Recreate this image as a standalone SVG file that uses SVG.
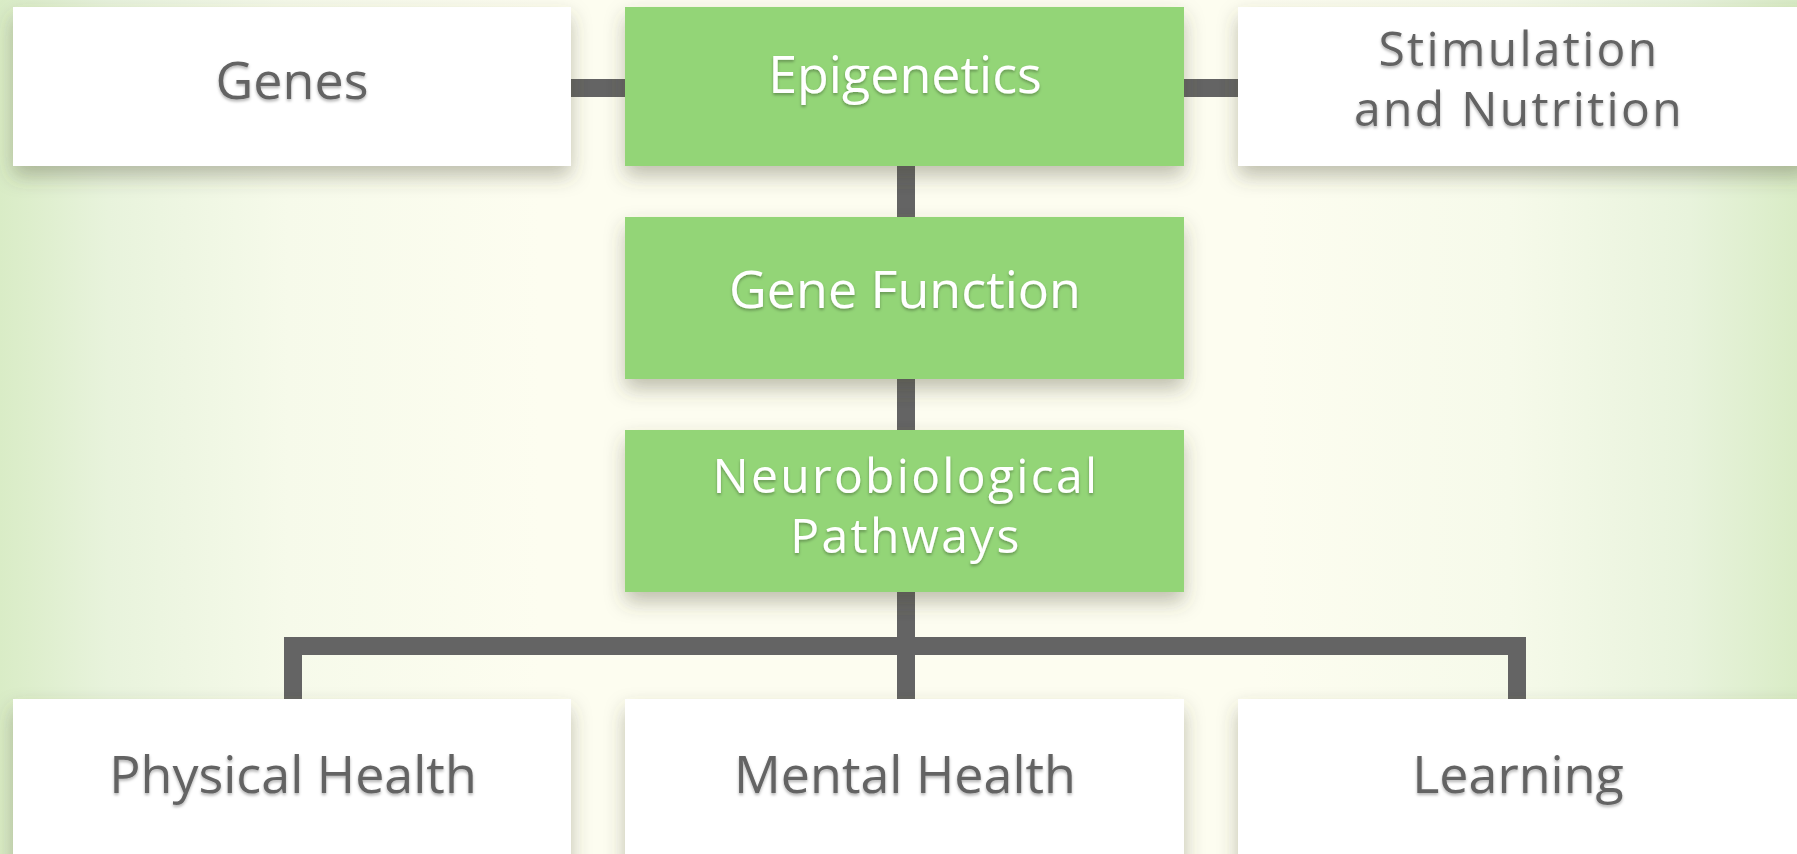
<svg xmlns="http://www.w3.org/2000/svg" width="1797" height="854" viewBox="0 0 1797 854">
<defs>
<linearGradient id="bg" x1="0" y1="0" x2="1" y2="0">
<stop offset="0" stop-color="#d9ecc6"/>
<stop offset="0.06" stop-color="#e8f3dc"/>
<stop offset="0.16" stop-color="#f6faea"/>
<stop offset="0.3" stop-color="#fdfdf0"/>
<stop offset="0.7" stop-color="#fdfdf0"/>
<stop offset="0.84" stop-color="#f6faea"/>
<stop offset="0.94" stop-color="#e8f3dc"/>
<stop offset="1" stop-color="#d9ecc6"/>
</linearGradient>
<filter id="boxShadow" x="-10%" y="-20%" width="120%" height="150%">
<feDropShadow dx="0" dy="10" stdDeviation="10" flood-color="#4a4a30" flood-opacity="0.35"/>
</filter>
<filter id="textShadow" x="-5%" y="-20%" width="110%" height="150%">
<feDropShadow dx="0" dy="2" stdDeviation="1.5" flood-color="#000" flood-opacity="0.3"/>
</filter>
</defs>
<style>
.wbox{fill:#ffffff;filter:url(#boxShadow)}
.gbox{fill:#93d577;filter:url(#boxShadow)}
.lbl{font-family:"Open Sans","Noto Sans",sans-serif;font-size:52px;text-anchor:middle;filter:url(#textShadow)}
.two{font-size:48px;letter-spacing:2.3px}
.dark{fill:#646464}
.light{fill:#ffffff}
.conn{fill:none;stroke:#646464;stroke-width:18;stroke-linecap:butt;stroke-linejoin:miter}
</style>
<rect x="0" y="0" width="1797" height="854" fill="url(#bg)"/>
<g id="connectors">
<path class="conn" d="M571,88 H625"/>
<path class="conn" d="M1184,88 H1238"/>
<path class="conn" d="M906,166 V217"/>
<path class="conn" d="M906,379 V430"/>
<path class="conn" d="M906,592 V699"/>
<path class="conn" d="M293,699 V646 H1517 V699"/>
</g>
<g id="genes">
<rect class="wbox" x="13" y="7" width="558" height="159"/>
<text class="lbl dark" x="292" y="99">Genes</text>
</g>
<g id="epigenetics">
<rect class="gbox" x="625" y="7" width="559" height="159"/>
<text class="lbl light" x="905" y="93">Epigenetics</text>
</g>
<g id="stimulation">
<rect class="wbox" x="1238" y="7" width="570" height="159"/>
<text class="lbl two dark" x="1519" y="66">Stimulation<tspan x="1519" dy="59.5">and Nutrition</tspan></text>
</g>
<g id="gene-function">
<rect class="gbox" x="625" y="217" width="559" height="162"/>
<text class="lbl light" x="905" y="308">Gene Function</text>
</g>
<g id="neurobiological">
<rect class="gbox" x="625" y="430" width="559" height="162"/>
<text class="lbl two light" x="906" y="493">Neurobiological<tspan x="906" dy="59.5">Pathways</tspan></text>
</g>
<g id="physical-health">
<rect class="wbox" x="13" y="699" width="558" height="170"/>
<text class="lbl dark" x="293" y="793">Physical Health</text>
</g>
<g id="mental-health">
<rect class="wbox" x="625" y="699" width="559" height="170"/>
<text class="lbl dark" x="905" y="793">Mental Health</text>
</g>
<g id="learning">
<rect class="wbox" x="1238" y="699" width="570" height="170"/>
<text class="lbl dark" x="1518" y="793">Learning</text>
</g>
</svg>
